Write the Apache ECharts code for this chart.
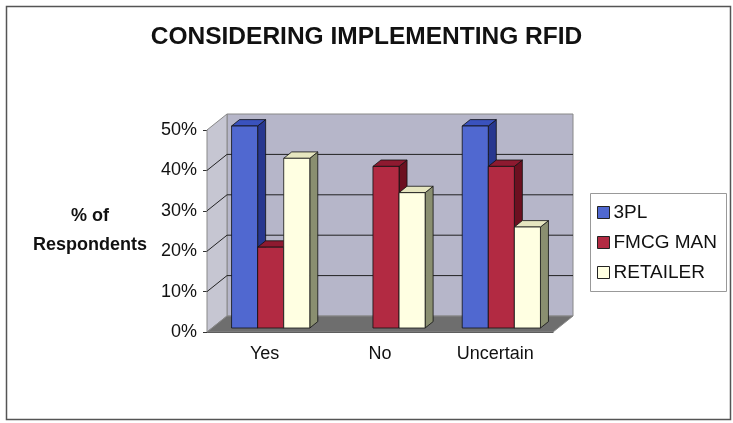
<!DOCTYPE html>
<html>
<head>
<meta charset="utf-8">
<script src="https://cdn.jsdelivr.net/npm/echarts@6/dist/echarts.min.js"></script>
<style>html,body{margin:0;padding:0;background:#fff}#c{width:733px;height:423px}</style>
</head>
<body>
<div id="c"></div>
<script>
var categories = ['Yes', 'No', 'Uncertain'];
var seriesNames = ['3PL', 'FMCG MAN', 'RETAILER'];
var v3PL = [50, 0, 50];
var vFMCG = [20, 40, 40];
var vRetailer = [42, 33.5, 25];
var yTicks = [0, 10, 20, 30, 40, 50];

var DX = 20, DY = -16;
var faces = [
  {front: '#5068d0', side: '#27378f', top: '#3a52bd'},
  {front: '#b22a42', side: '#6c1020', top: '#8e1a30'},
  {front: '#ffffe2', side: '#8a8f70', top: '#e6e6c0'}
];
var allValues = [v3PL, vFMCG, vRetailer];
var FONT = 'Liberation Sans, Arial, sans-serif';

function frameRender(params, api) {
  var cs = params.coordSys;
  var x0 = cs.x, x1 = cs.x + cs.width, yT = cs.y, yB = cs.y + cs.height;
  var ch = [];
  ch.push({type: 'polygon', shape: {points: [[x0 + DX, yT + DY], [x1 + DX, yT + DY], [x1 + DX, yB + DY], [x0 + DX, yB + DY]]},
    style: {fill: '#b6b6c9', stroke: '#888', lineWidth: 1}});
  ch.push({type: 'polygon', shape: {points: [[x0, yB], [x0, yT], [x0 + DX, yT + DY], [x0 + DX, yB + DY]]},
    style: {fill: '#c6c6d2', stroke: '#888', lineWidth: 1}});
  ch.push({type: 'polygon', shape: {points: [[x0, yB], [x1, yB], [x1 + DX, yB + DY], [x0 + DX, yB + DY]]},
    style: {fill: '#6e6e6e', stroke: '#888', lineWidth: 1}});
  for (var k = 1; k < yTicks.length - 1; k++) {
    var y = api.coord([0, yTicks[k]])[1];
    ch.push({type: 'line', shape: {x1: x0 + DX, y1: y + DY, x2: x1 + DX, y2: y + DY}, style: {stroke: '#222', lineWidth: 1}});
    ch.push({type: 'line', shape: {x1: x0, y1: y, x2: x0 + DX, y2: y + DY}, style: {stroke: '#222', lineWidth: 1}});
  }
  return {type: 'group', children: ch};
}

function barRender(s) {
  return function (params, api) {
    var i = api.value(0), v = api.value(1);
    if (!v) return null;
    var base = api.coord([i, 0]);
    var top = api.coord([i, v]);
    var bw = api.size([1, 0])[0] * 26 / 115;
    var sx = DX * 0.25 + 1, sy = DY * 0.25;
    var ddx = DX * 0.4, ddy = DY * 0.4;
    var xl = base[0] - 1.5 * bw + s * bw + sx;
    var xr = xl + bw;
    var yb = base[1] + sy, yt = top[1] + sy;
    var f = faces[s];
    return {type: 'group', children: [
      {type: 'polygon', shape: {points: [[xr, yt], [xr + ddx, yt + ddy], [xr + ddx, yb + ddy], [xr, yb]]}, style: {fill: f.side, stroke: '#111', lineWidth: 0.8}},
      {type: 'polygon', shape: {points: [[xl, yt], [xr, yt], [xr + ddx, yt + ddy], [xl + ddx, yt + ddy]]}, style: {fill: f.top, stroke: '#111', lineWidth: 0.8}},
      {type: 'rect', shape: {x: xl, y: yt, width: bw, height: yb - yt}, style: {fill: f.front, stroke: '#111', lineWidth: 0.8}}
    ]};
  };
}

var series = [{
  type: 'custom', name: 'frame', renderItem: frameRender, data: [[0, 0]], silent: true, z: 1
}];
for (var s = 0; s < 3; s++) {
  series.push({
    type: 'custom', name: seriesNames[s], renderItem: barRender(s), z: 2 + s,
    itemStyle: {color: faces[s].front},
    encode: {x: 0, y: 1},
    data: allValues[s].map(function (v, i) { return [i, v]; })
  });
}

var chart = echarts.init(document.getElementById('c'), null, {renderer: 'canvas'});
chart.setOption({
  animation: false,
  backgroundColor: '#fff',
  title: {text: 'CONSIDERING IMPLEMENTING RFID', left: 'center', top: 20,
    textStyle: {fontFamily: FONT, fontWeight: 'bold', fontSize: 24.5, color: '#111'}},
  grid: {left: 207, right: 180, top: 130, bottom: 91},
  legend: {
    orient: 'vertical', left: 597, top: 203, padding: 0, itemWidth: 12, itemHeight: 12, itemGap: 11,
    data: seriesNames, icon: 'rect',
    itemStyle: {borderColor: '#222', borderWidth: 1},
    textStyle: {fontFamily: FONT, fontSize: 19, color: '#111', padding: [0, 0, 0, -1]}
  },
  xAxis: {
    type: 'category', data: categories,
    axisLine: {lineStyle: {color: '#333'}},
    axisTick: {length: 4, lineStyle: {color: '#333'}},
    axisLabel: {fontFamily: FONT, fontSize: 18, color: '#111', margin: 13}
  },
  yAxis: {
    type: 'value', min: 0, max: 50, interval: 10,
    name: '% of\nRespondents', nameLocation: 'middle', nameRotate: 0, nameGap: 117,
    nameTextStyle: {fontFamily: FONT, fontWeight: 'bold', fontSize: 18, color: '#111', lineHeight: 29, align: 'center'},
    axisLine: {show: true, lineStyle: {color: '#333'}},
    axisTick: {show: true, length: 4, lineStyle: {color: '#333'}},
    splitLine: {show: false},
    axisLabel: {formatter: '{value}%', fontFamily: FONT, fontSize: 18, color: '#111', margin: 10}
  },
  graphic: [
    {type: 'rect', shape: {x: 6.5, y: 6.5, width: 724, height: 413}, style: {fill: null, stroke: '#555', lineWidth: 1.5}, z: -1},
    {type: 'rect', shape: {x: 590.5, y: 193.5, width: 136, height: 98}, style: {fill: '#fff', stroke: '#999', lineWidth: 1}, z: -1}
  ],
  series: series
});
</script>
</body>
</html>
